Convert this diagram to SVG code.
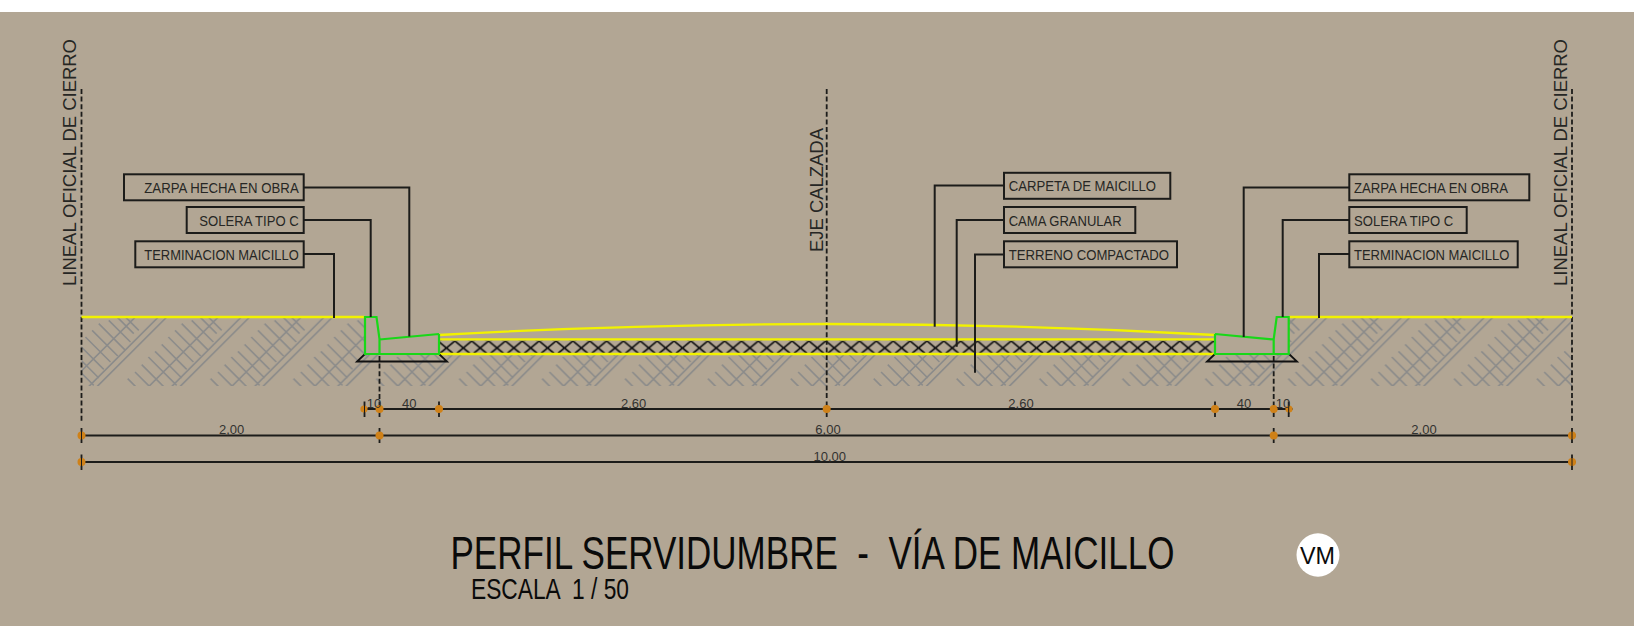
<svg xmlns="http://www.w3.org/2000/svg" xmlns:xlink="http://www.w3.org/1999/xlink" width="1634" height="626" viewBox="0 0 1634 626">
<style>
text{font-family:"Liberation Sans",Arial,sans-serif;white-space:pre}
.box{fill:none;stroke:#1c1c1a;stroke-width:2}
.lead{fill:none;stroke:#1c1c1a;stroke-width:2}
.lbl{font-size:14px;fill:#262624}
.dim{font-size:13px;fill:#333331}
.axis{fill:none;stroke:#1c1c1a;stroke-width:1.8;stroke-dasharray:5 2.6}
.v{font-size:18px;fill:#262624}
.dl{stroke:#1c1c1a;stroke-width:2}
.tk{stroke:#1c1c1a;stroke-width:1.8}
.o{fill:#cf8118}
.yl{fill:none;stroke:#f2f200;stroke-width:2.3}
.gr{fill:none;stroke:#18d818;stroke-width:2.2}
.ttl{fill:#0a0a0a}
</style>
<defs>
<g id="hg" stroke="#8b8b8a" stroke-width="4.8" fill="none" transform="scale(.33333)">
<path d="M240 10L20 230M265 10L45 230M425 5L200 230M143 200L172 229M165 180L215 230M185 158L257 230M205 135L290 220M225 118L305 198M245 97L320 172M265 75L340 150M285 55L362 132M305 35L385 115M335 25L400 90M355 10L410 65M380 10L425 55"/>
</g>
<pattern id="hatch" patternUnits="userSpaceOnUse" x="80" y="312" width="82.9" height="100">
<use href="#hg"/><use href="#hg" x="-82.9"/><use href="#hg" x="-165.8"/>
</pattern>
<pattern id="xx" patternUnits="userSpaceOnUse" x="454.87" y="340.5" width="16.86" height="13">
<path d="M-1.3 -.6L15 13M18.16 -.6L1.86 13M-1.3 16" stroke="#111" stroke-width="1.7" fill="none"/>
</pattern>
</defs>
<rect x="0" y="0" width="1634" height="626" fill="#ffffff"/>
<rect x="0" y="12" width="1634" height="614" fill="#b2a694"/>
<path id="ground-hatch" d="M81.5 317H365V354H1289V317H1572V386H81.5Z" fill="url(#hatch)"/>
<rect id="granular" x="440" y="340.5" width="774" height="13" fill="url(#xx)"/>
<g id="axes">
<path class="axis" d="M81.5 89V423"/>
<path class="axis" d="M1572 89V423"/>
<path class="axis" d="M826.7 89V400"/>
<path class="axis" d="M379.5 356V400"/>
<path class="axis" d="M1273.7 356V400"/>
</g>
<g id="pavement">
<path class="yl" d="M81.5 317H365M1289 317H1572"/>
<path class="yl" d="M439 335Q827 313 1215 335M439 339.3H1215M437 354H1217"/>
<path d="M365 354L357 361.5H447L439 354" fill="none" stroke="#111" stroke-width="1.8"/>
<path d="M1289 354L1297 361.5H1207L1215 354" fill="none" stroke="#111" stroke-width="1.8"/>
<path class="gr" d="M439 334V354H365V317H376.5L379.5 339V354M379.5 339.5L439 334"/>
<path class="gr" d="M1215 334V354H1288.7V317H1276.7L1273.7 339V354M1273.7 339.5L1215 334"/>
</g>
<g id="connectors">
<path class="lead" d="M303.7 187.5H409.3V336.5"/>
<path class="lead" d="M303.7 220H370.7V317"/>
<path class="lead" d="M303.7 254H334V318"/>
<path class="lead" d="M1004 185.5H934.7V326.7"/>
<path class="lead" d="M1004 220H956.7V346.7"/>
<path class="lead" d="M1004 254.5H975V372.7"/>
<path class="lead" d="M1349.3 187.5H1243.7V337"/>
<path class="lead" d="M1349.3 220H1282.7V317"/>
<path class="lead" d="M1349.3 254H1319V318"/>
</g>
<g id="n-zarpa-l"><rect class="box" x="124" y="174.3" width="179.7" height="26"/><text class="lbl" x="144.3" y="192.7" textLength="154.4" lengthAdjust="spacingAndGlyphs">ZARPA HECHA EN OBRA</text></g>
<g id="n-solera-l"><rect class="box" x="186.7" y="207" width="117" height="26"/><text class="lbl" x="199.3" y="225.7" textLength="99.4" lengthAdjust="spacingAndGlyphs">SOLERA TIPO C</text></g>
<g id="n-term-l"><rect class="box" x="135.3" y="241.3" width="168.4" height="26"/><text class="lbl" x="144.3" y="260" textLength="154.4" lengthAdjust="spacingAndGlyphs">TERMINACION MAICILLO</text></g>
<g id="n-carpeta"><rect class="box" x="1004" y="172.8" width="166.3" height="26"/><text class="lbl" x="1008.7" y="190.7" textLength="147.3" lengthAdjust="spacingAndGlyphs">CARPETA DE MAICILLO</text></g>
<g id="n-cama"><rect class="box" x="1004" y="207" width="131.3" height="26"/><text class="lbl" x="1008.7" y="226" textLength="113" lengthAdjust="spacingAndGlyphs">CAMA GRANULAR</text></g>
<g id="n-terreno"><rect class="box" x="1004" y="241.3" width="173" height="26"/><text class="lbl" x="1008.7" y="260" textLength="160.3" lengthAdjust="spacingAndGlyphs">TERRENO COMPACTADO</text></g>
<g id="n-zarpa-r"><rect class="box" x="1349.3" y="174.3" width="180" height="26"/><text class="lbl" x="1354" y="192.7" textLength="154" lengthAdjust="spacingAndGlyphs">ZARPA HECHA EN OBRA</text></g>
<g id="n-solera-r"><rect class="box" x="1349.3" y="207" width="117.4" height="26"/><text class="lbl" x="1354" y="225.7" textLength="99.3" lengthAdjust="spacingAndGlyphs">SOLERA TIPO C</text></g>
<g id="n-term-r"><rect class="box" x="1349.3" y="241.3" width="168.4" height="26"/><text class="lbl" x="1354" y="260" textLength="155.3" lengthAdjust="spacingAndGlyphs">TERMINACION MAICILLO</text></g>
<g id="n-lineal-l"><text class="v" transform="translate(76 286) rotate(-90)" textLength="247" lengthAdjust="spacingAndGlyphs">LINEAL OFICIAL DE CIERRO</text></g>
<g id="n-lineal-r"><text class="v" transform="translate(1566.7 286) rotate(-90)" textLength="247" lengthAdjust="spacingAndGlyphs">LINEAL OFICIAL DE CIERRO</text></g>
<g id="n-eje"><text class="v" transform="translate(822.7 252) rotate(-90)" textLength="124" lengthAdjust="spacingAndGlyphs">EJE CALZADA</text></g>
<g id="dimensions">
<path class="tk" d="M364.5 401.5V417M379.5 401.5V417M439 401.5V417M826.7 401.5V417M1215 401.5V417M1273.7 401.5V417M1288.7 401.5V417M81.5 428V443M379.5 428V443M1273.7 428V443M1572 428V443M81.5 454.5V470M1572 454.5V470"/>
<path class="dl" d="M361 409H1292.5M78 435.5H1575.7M78 462H1575.7"/>
<g class="o">
<circle cx="379.5" cy="409" r="4"/><circle cx="439" cy="409" r="4"/><circle cx="826.7" cy="409" r="4"/><circle cx="1215" cy="409" r="4"/><circle cx="1273.7" cy="409" r="4"/><circle cx="379.5" cy="435.5" r="4"/><circle cx="1273.7" cy="435.5" r="4"/>
<circle cx="364" cy="409" r="3.6"/><circle cx="1289" cy="409" r="3.6"/><circle cx="81.5" cy="435.5" r="4"/><circle cx="1572" cy="435.5" r="4"/><circle cx="81.5" cy="462" r="4"/><circle cx="1572" cy="462" r="4"/>
</g>
<path class="tk" style="stroke-width:1" d="M364.5 404V414M1288.7 404V414M81.5 431V440M1572 431V440M81.5 457.5V466.5M1572 457.5V466.5"/>
<g class="dim" text-anchor="middle">
<text x="374" y="408">10</text><text x="409.3" y="408">40</text><text x="633.6" y="408">2,60</text><text x="1021" y="408">2,60</text><text x="1244" y="408">40</text><text x="1283" y="408">10</text>
<text x="231.7" y="434">2,00</text><text x="828" y="434">6,00</text><text x="1424" y="434">2,00</text><text x="829.7" y="461">10,00</text>
</g>
</g>
<g id="title">
<text class="ttl" x="450.5" y="568.7" font-size="47" textLength="724" lengthAdjust="spacingAndGlyphs">PERFIL SERVIDUMBRE  -  VÍA DE MAICILLO</text>
<text class="ttl" x="471" y="599.3" font-size="29.5" textLength="158" lengthAdjust="spacingAndGlyphs">ESCALA  1 / 50</text>
</g>
<g id="n-vm"><ellipse cx="1318" cy="555" rx="21.5" ry="21.7" fill="#fff"/><text class="ttl" x="1300" y="564.3" font-size="24.7" textLength="35" lengthAdjust="spacingAndGlyphs">VM</text></g>
</svg>
